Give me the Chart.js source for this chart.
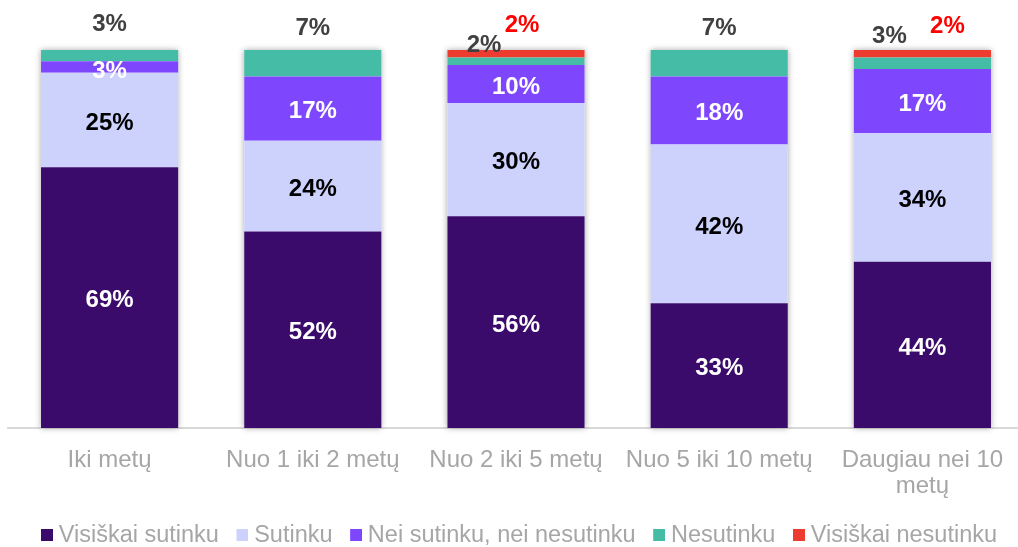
<!DOCTYPE html>
<html>
<head>
<meta charset="utf-8">
<script src="https://cdn.jsdelivr.net/npm/chart.js@4/dist/chart.umd.min.js"></script>
<style>
  html, body { margin: 0; padding: 0; background: #fff; overflow: hidden; }
  #wrap { width: 1032px; height: 557px; }
</style>
</head>
<body>
<div id="wrap"><canvas id="chart" width="1032" height="557"></canvas></div>
<script>
const categories = ['Iki metų', 'Nuo 1 iki 2 metų', 'Nuo 2 iki 5 metų', 'Nuo 5 iki 10 metų', ['Daugiau nei 10', 'metų']];
const seriesNames = ['Visiškai sutinku', 'Sutinku', 'Nei sutinku, nei nesutinku', 'Nesutinku', 'Visiškai nesutinku'];
const fullyAgree = [69, 52, 56, 33, 44];
const agree = [25, 24, 30, 42, 34];
const neutral = [3, 17, 10, 18, 17];
const disagree = [3, 7, 2, 7, 3];
const fullyDisagree = [0, 0, 2, 0, 2];

const colors = ['#3a0b6b', '#cdd2fd', '#7f47fd', '#45bca6', '#ee3b30'];
const labelColors = ['#ffffff', '#000000', '#ffffff', '#404040', '#ff0000'];

// labels for the thin top segments sit above the bar (dx, dy from bar top)
const outsideOffsets = {
  3: [[0, -26], [0, -22], [-32, -5], [0, -22], [-33, -14]],
  4: [[0, -25], [0, -25], [6, -25], [0, -25], [25, -24]]
};

// legend square, pushed to the right half so it sits closer to its text
const makeBox = (color) => {
  const c = document.createElement('canvas');
  c.width = 24;
  c.height = 12;
  const cx = c.getContext('2d');
  cx.fillStyle = color;
  cx.fillRect(12, 0, 12, 12);
  return c;
};

// shadow behind the whole stack
const shadowPlugin = {
  id: 'stackShadow',
  beforeDatasetsDraw(chart) {
    const ctx = chart.ctx;
    const base = chart.getDatasetMeta(0);
    const top = chart.scales.y.getPixelForValue(100);
    const bottom = chart.scales.y.getPixelForValue(0);
    ctx.save();
    ctx.shadowColor = 'rgba(0,0,0,0.35)';
    ctx.shadowBlur = 6;
    ctx.fillStyle = '#fff';
    base.data.forEach(bar => {
      ctx.fillRect(bar.x - bar.width / 2, top, bar.width, bottom - top);
    });
    ctx.restore();
  }
};

const labelPlugin = {
  id: 'segLabels',
  afterDatasetsDraw(chart) {
    const ctx = chart.ctx;
    const top = chart.scales.y.getPixelForValue(100);
    ctx.save();
    ctx.font = 'bold 24px "Liberation Sans", Arial, sans-serif';
    ctx.textAlign = 'center';
    ctx.textBaseline = 'middle';
    chart.data.datasets.forEach((ds, di) => {
      const meta = chart.getDatasetMeta(di);
      meta.data.forEach((bar, i) => {
        const v = ds.data[i];
        if (!v) return;
        ctx.fillStyle = labelColors[di];
        let x = bar.x, y = (bar.y + bar.base) / 2 + 3;
        if (outsideOffsets[di]) {
          x = bar.x + outsideOffsets[di][i][0];
          y = top + outsideOffsets[di][i][1];
        } else if (v < 5) {
          y += 1;
        }
        ctx.fillText(v + '%', x, y);
      });
    });
    ctx.restore();
  }
};

const datasetList = [fullyAgree, agree, neutral, disagree, fullyDisagree].map((d, i) => ({
  label: seriesNames[i],
  data: d,
  backgroundColor: colors[i],
  borderWidth: 0,
  barPercentage: 0.675,
  categoryPercentage: 1
}));

new Chart(document.getElementById('chart'), {
  type: 'bar',
  data: { labels: categories, datasets: datasetList },
  options: {
    responsive: false,
    animation: false,
    layout: { padding: { top: 50, left: 8, right: 8, bottom: 0 } },
    plugins: {
      tooltip: { enabled: false },
      legend: {
        position: 'bottom',
        labels: {
          color: '#a6a6a6',
          font: { family: '"Liberation Sans", Arial, sans-serif', size: 23.5 },
          boxWidth: 12,
          boxHeight: 12,
          padding: 5,
          usePointStyle: true,
          generateLabels(chart) {
            const items = Chart.defaults.plugins.legend.labels.generateLabels(chart);
            items.forEach((it, i) => {
              it.pointStyle = makeBox(colors[i]);
              if (i < items.length - 1) it.text = it.text + ' ';
            });
            return items;
          }
        }
      }
    },
    scales: {
      x: {
        stacked: true,
        grid: { display: false, drawTicks: false },
        border: { color: '#d9d9d9', width: 2 },
        ticks: {
          color: '#a6a6a6',
          font: { family: '"Liberation Sans", Arial, sans-serif', size: 24, lineHeight: 1.05 },
          padding: 20,
          maxRotation: 0,
          autoSkip: false
        }
      },
      y: {
        stacked: true,
        display: false,
        min: 0,
        max: 100
      }
    }
  },
  plugins: [shadowPlugin, labelPlugin]
});
</script>
</body>
</html>
